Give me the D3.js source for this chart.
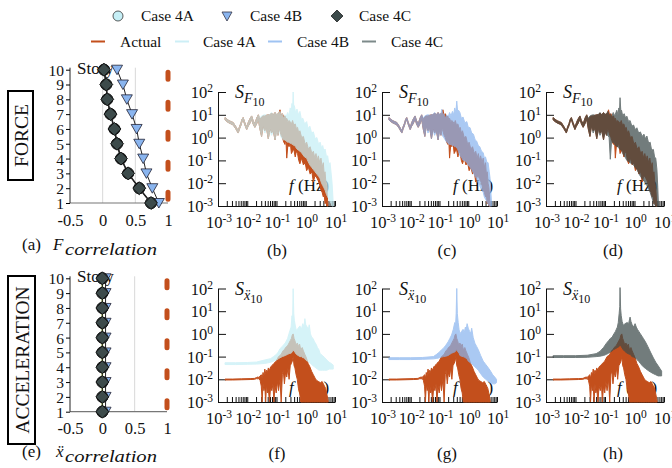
<!DOCTYPE html>
<html>
<head>
<meta charset="utf-8">
<script src="https://cdn.jsdelivr.net/npm/d3@7"></script>
<style>
  body { margin: 0; background: #fff; }
  text { font-family: 'Liberation Serif', 'Times New Roman', Times, serif; fill: #111; }
</style>
</head>
<body>
<div id="chart"></div>
<script>
// ---- data ----
var stories = [1, 2, 3, 4, 5, 6, 7, 8, 9, 10];
var corrTicks = [-0.5, 0, 0.5, 1];
var actualCorr = [1, 1, 1, 1, 1, 1, 1, 1, 1, 1];
// force correlation per story (1..10)
var forceCorr4A = [0.74, 0.56, 0.39, 0.28, 0.22, 0.18, 0.12, 0.07, 0.055, 0.02];
var forceCorr4B = [0.86, 0.76, 0.67, 0.62, 0.56, 0.52, 0.45, 0.37, 0.31, 0.22];
var forceCorr4C = [0.74, 0.56, 0.39, 0.28, 0.22, 0.18, 0.12, 0.07, 0.055, 0.02];
// acceleration correlation per story
var accCorr4A = [0, 0, 0, 0, 0, 0, 0, 0, 0, 0];
var accCorr4B = [0.05, 0.05, 0.05, 0.05, 0.05, 0.05, 0.05, 0.05, 0.05, 0.05];
var accCorr4C = [0, 0, 0, 0, 0, 0, 0, 0, 0, 0];

var freqDecades = [-3, -2, -1, 0, 1];       // exponents of 10 (Hz)
var ampDecades = [2, 1, 0, -1, -2, -3];     // exponents of 10

// spectra: [log10 f, log10 upper, log10 lower]
var forceActual = [
  [-2.76,0.88,0.78],[-2.69,0.80,0.70],[-2.62,0.74,0.64],[-2.55,0.70,0.60],[-2.48,0.66,0.55],
  [-2.40,0.50,0.40],[-2.31,0.30,0.20],[-2.26,0.50,0.40],[-2.22,0.62,0.52],[-2.18,0.80,0.70],
  [-2.14,0.88,0.78],[-2.08,0.65,0.55],[-2.02,0.45,0.35],[-1.97,0.65,0.50],[-1.92,0.80,0.60],
  [-1.85,0.95,0.80],[-1.80,0.75,0.60],[-1.74,0.60,0.45],[-1.68,0.85,0.60],[-1.62,1.00,0.80],
  [-1.57,0.80,0.40],[-1.51,0.90,0.05],[-1.46,0.95,0.50],[-1.40,0.95,0.30],[-1.34,0.98,0.40],
  [-1.28,1.00,-0.05],[-1.22,1.00,0.40],[-1.17,1.08,0.20],[-1.11,1.00,0.30],[-1.05,1.10,-0.10],
  [-1.00,1.00,0.30],[-0.95,1.05,0.10],[-0.91,1.10,0.35],[-0.88,1.22,0.30],[-0.84,0.95,0.10],
  [-0.80,1.05,0.00],[-0.75,0.90,-0.20],[-0.71,0.95,-0.30],[-0.68,0.80,0.00],[-0.65,0.85,-0.90],
  [-0.61,0.70,-0.30],[-0.57,0.75,-0.40],[-0.53,0.70,-0.20],[-0.49,0.60,-0.70],[-0.45,0.75,-0.60],
  [-0.41,0.55,-0.50],[-0.36,0.60,-0.85],[-0.32,0.40,-0.60],[-0.28,0.45,-0.70],[-0.24,0.20,-1.00],
  [-0.20,0.30,-1.15],[-0.14,0.00,-0.90],[-0.08,0.05,-1.20],[-0.02,-0.30,-1.10],[0.03,-0.20,-1.45],
  [0.09,-0.50,-1.30],[0.15,-0.40,-1.60],[0.21,-0.70,-1.50],[0.26,-0.60,-1.95],[0.31,-0.90,-1.70],
  [0.35,-0.70,-1.70],[0.39,-1.00,-1.80],[0.43,-0.80,-1.90],[0.48,-1.10,-2.10],[0.52,-0.90,-2.30],
  [0.56,-1.30,-2.40],[0.60,-1.10,-2.60],[0.63,-1.60,-2.50],[0.66,-1.50,-2.90],[0.69,-2.00,-2.80],
  [0.72,-2.20,-3.00],[0.76,-3.00,-3.00]
];
// low-frequency part, the same in all three force cases
var forceCaseLow = [
  [-2.76,0.88,0.78],[-2.69,0.80,0.70],[-2.62,0.74,0.64],[-2.55,0.70,0.60],[-2.48,0.66,0.55],
  [-2.40,0.50,0.40],[-2.31,0.30,0.20],[-2.26,0.50,0.40],[-2.22,0.62,0.52],[-2.18,0.80,0.70],
  [-2.14,0.88,0.78],[-2.08,0.65,0.55],[-2.02,0.45,0.35],[-1.97,0.65,0.50],[-1.92,0.80,0.60],
  [-1.85,0.95,0.80],[-1.80,0.75,0.60],[-1.74,0.60,0.45],[-1.68,0.85,0.60],[-1.62,1.00,0.80],
  [-1.57,0.85,0.40],[-1.51,0.95,0.05],[-1.46,0.98,0.50],[-1.40,1.00,0.20],[-1.34,0.98,0.40],
  [-1.28,1.00,-0.05],[-1.22,1.02,0.35],[-1.17,1.10,0.10],[-1.11,1.00,0.30],[-1.05,1.10,-0.10],
  [-1.00,1.02,0.25],[-0.95,1.05,0.10]
];
var force4AHigh = [
  [-0.91,1.10,0.35],[-0.88,1.15,0.20],[-0.84,0.95,0.00],[-0.80,1.05,-0.05],[-0.76,0.85,-0.10],
  [-0.71,1.00,-0.10],[-0.67,0.90,-0.15],[-0.62,1.10,-0.20],[-0.58,0.95,-0.20],[-0.53,1.30,-0.25],
  [-0.50,1.10,-0.25],[-0.47,1.50,-0.30],[-0.45,1.20,-0.30],[-0.43,2.00,-0.30],[-0.41,1.30,-0.35],
  [-0.39,1.40,-0.35],[-0.35,1.10,-0.40],[-0.30,1.25,-0.50],[-0.25,1.00,-0.55],[-0.20,1.15,-0.60],
  [-0.15,0.80,-0.65],[-0.10,0.85,-0.75],[-0.04,0.60,-0.85],[0.03,0.70,-0.90],[0.08,0.40,-1.05],
  [0.14,0.50,-1.20],[0.20,0.20,-1.30],[0.26,0.25,-1.40],[0.32,-0.05,-1.50],[0.38,0.00,-1.60],
  [0.44,-0.30,-1.70],[0.49,-0.20,-1.80],[0.54,-0.45,-2.00],[0.58,-0.35,-2.10],[0.62,-0.60,-2.20],
  [0.66,-0.50,-2.30],[0.71,-0.85,-2.50],[0.75,-0.80,-2.60],[0.79,-1.20,-2.70],[0.83,-1.10,-2.80],
  [0.87,-1.60,-2.90],[0.90,-2.00,-3.00],[0.94,-2.90,-3.00]
];
var force4BHigh = [
  [-0.92,1.24,0.20],[-0.88,1.00,0.05],[-0.85,1.05,0.00],[-0.80,0.85,-0.10],[-0.75,1.00,-0.20],
  [-0.70,0.90,-0.25],[-0.65,1.10,-0.30],[-0.60,0.95,-0.30],[-0.55,1.15,-0.35],[-0.51,1.00,-0.35],
  [-0.47,1.30,-0.40],[-0.43,1.10,-0.40],[-0.40,1.60,-0.45],[-0.37,1.15,-0.50],[-0.34,1.20,-0.60],
  [-0.29,1.10,-0.80],[-0.24,0.85,-0.85],[-0.18,0.90,-1.00],[-0.12,0.65,-1.00],[-0.05,0.70,-1.10],
  [0.00,0.45,-1.20],[0.06,0.44,-1.30],[0.12,0.20,-1.40],[0.18,0.15,-1.55],[0.24,-0.10,-1.70],
  [0.29,-0.15,-1.80],[0.35,-0.35,-2.00],[0.40,-0.40,-2.10],[0.46,-0.60,-2.30],[0.52,-0.66,-2.40],
  [0.56,-0.90,-2.60],[0.60,-0.85,-2.70],[0.65,-1.10,-2.80],[0.69,-1.10,-2.90],[0.73,-1.50,-3.00],
  [0.76,-1.80,-3.00],[0.81,-2.90,-3.00]
];
var force4CHigh = [
  [-0.90,1.15,0.10],[-0.86,0.95,0.00],[-0.82,1.05,-0.95],[-0.78,0.90,-0.20],[-0.72,1.10,-0.20],
  [-0.67,0.95,-0.30],[-0.60,1.20,-0.40],[-0.56,1.00,-0.40],[-0.53,1.30,-0.45],[-0.51,1.10,-0.50],
  [-0.49,1.75,-0.50],[-0.46,1.10,-0.55],[-0.44,1.20,-0.55],[-0.40,0.95,-0.70],[-0.35,1.05,-0.80],
  [-0.30,0.85,-0.90],[-0.26,0.94,-1.00],[-0.20,0.70,-1.05],[-0.15,0.75,-1.10],[-0.09,0.50,-1.15],
  [-0.03,0.55,-1.20],[0.02,0.35,-1.30],[0.08,0.43,-1.40],[0.14,0.20,-1.55],[0.20,0.25,-1.70],
  [0.26,0.05,-1.80],[0.32,0.15,-1.90],[0.37,-0.05,-2.00],[0.42,0.07,-2.10],[0.48,-0.25,-2.25],
  [0.53,-0.20,-2.40],[0.58,-0.55,-2.60],[0.64,-0.52,-2.85],[0.68,-0.85,-2.95],[0.72,-0.90,-3.00],
  [0.76,-1.40,-3.00],[0.79,-2.20,-3.00],[0.81,-2.90,-3.00]
];
var accActual = [
  [-2.76,-1.99,-2.03],[-2.50,-1.99,-2.03],[-2.20,-1.98,-2.02],[-1.90,-1.97,-2.01],[-1.75,-1.96,-2.00],
  [-1.68,-1.92,-1.97],[-1.64,-1.90,-1.98],[-1.60,-1.92,-1.97],[-1.56,-1.85,-2.05],[-1.52,-1.80,-2.30],
  [-1.49,-1.95,-3.00],[-1.46,-1.70,-2.20],[-1.43,-1.85,-2.50],[-1.40,-1.55,-2.30],[-1.37,-1.75,-3.00],
  [-1.34,-1.60,-2.20],[-1.31,-1.70,-2.60],[-1.28,-1.50,-2.40],[-1.24,-1.60,-3.00],[-1.20,-1.45,-2.30],
  [-1.16,-1.40,-2.50],[-1.12,-1.35,-2.20],[-1.09,-1.30,-3.00],[-1.05,-1.25,-2.30],[-1.01,-1.20,-2.60],
  [-0.97,-1.10,-2.10],[-0.93,-1.00,-2.50],[-0.88,-0.95,-2.00],[-0.84,-0.90,-3.00],[-0.80,-0.80,-1.80],
  [-0.77,-0.73,-1.60],[-0.73,-0.70,-2.20],[-0.69,-0.60,-1.70],[-0.65,-0.55,-1.90],[-0.61,-0.50,-1.50],
  [-0.57,-0.40,-2.00],[-0.53,-0.30,-1.40],[-0.49,-0.20,-1.30],[-0.46,-0.05,-1.20],[-0.43,0.00,-1.00],
  [-0.40,-0.20,-1.40],[-0.37,-0.30,-1.50],[-0.33,-0.50,-1.80],[-0.29,-0.40,-2.00],[-0.25,-0.55,-2.40],
  [-0.21,-0.45,-2.60],[-0.17,-0.70,-3.00],[-0.12,-0.60,-3.00],[-0.08,-0.75,-3.00],[-0.03,-0.90,-3.00],
  [0.02,-1.05,-3.00],[0.08,-1.30,-3.00],[0.14,-1.45,-3.00],[0.20,-1.65,-3.00],[0.26,-1.80,-3.00],
  [0.32,-1.95,-3.00],[0.37,-2.05,-3.00],[0.44,-2.10,-3.00],[0.50,-2.15,-3.00],[0.56,-2.10,-3.00],
  [0.62,-2.25,-3.00],[0.68,-2.40,-3.00],[0.73,-2.70,-3.00],[0.77,-3.00,-3.00]
];
var acc4A = [
  [-2.76,-1.27,-1.35],[-2.40,-1.27,-1.35],[-2.00,-1.26,-1.34],[-1.68,-1.24,-1.33],[-1.40,-1.15,-1.30],
  [-1.20,-1.09,-1.25],[-1.10,-1.00,-1.20],[-1.00,-0.90,-1.15],[-0.94,-0.80,-1.10],[-0.88,-0.65,-1.05],
  [-0.80,-0.55,-1.00],[-0.70,-0.40,-0.95],[-0.62,-0.20,-0.90],[-0.54,0.15,-0.85],[-0.50,0.30,-0.85],
  [-0.47,0.80,-0.80],[-0.45,0.60,-0.75],[-0.43,1.99,-0.70],[-0.41,0.90,-0.75],[-0.39,0.60,-0.75],
  [-0.35,0.30,-0.85],[-0.32,0.15,-0.90],[-0.26,0.25,-0.95],[-0.20,0.35,-1.00],[-0.15,0.20,-1.00],
  [-0.10,0.45,-1.05],[-0.06,0.30,-1.05],[-0.03,0.67,-1.10],[0.00,0.40,-1.15],[0.05,0.30,-1.20],
  [0.09,0.20,-1.20],[0.12,0.40,-1.25],[0.16,0.00,-1.30],[0.20,-0.14,-1.35],[0.25,-0.20,-1.40],
  [0.30,-0.35,-1.45],[0.35,-0.45,-1.50],[0.40,-0.60,-1.55],[0.45,-0.70,-1.60],[0.49,-0.87,-1.60],
  [0.57,-0.95,-1.60],[0.65,-1.05,-1.60],[0.72,-1.15,-1.60],[0.80,-1.25,-1.55],[0.87,-1.30,-1.55],
  [0.94,-1.38,-1.55]
];
var acc4B = [
  [-2.76,-1.05,-1.13],[-2.40,-1.05,-1.13],[-2.00,-1.05,-1.13],[-1.60,-1.04,-1.12],[-1.21,-1.00,-1.10],
  [-1.10,-0.90,-1.08],[-1.00,-0.80,-1.05],[-0.93,-0.70,-1.02],[-0.86,-0.63,-1.00],[-0.78,-0.50,-0.98],
  [-0.70,-0.35,-0.95],[-0.64,-0.20,-0.90],[-0.58,-0.05,-0.85],[-0.52,0.20,-0.82],[-0.47,0.50,-0.80],
  [-0.44,0.40,-0.75],[-0.42,0.90,-0.72],[-0.40,2.00,-0.70],[-0.38,0.90,-0.75],[-0.35,0.50,-0.80],
  [-0.32,0.20,-0.85],[-0.29,0.00,-0.95],[-0.24,0.10,-0.98],[-0.18,0.20,-1.00],[-0.14,0.05,-1.02],
  [-0.10,0.30,-1.05],[-0.07,0.20,-1.08],[-0.04,0.45,-1.10],[0.00,0.25,-1.20],[0.05,0.10,-1.25],
  [0.09,0.05,-1.28],[0.12,0.25,-1.30],[0.17,-0.15,-1.38],[0.23,-0.41,-1.45],[0.29,-0.55,-1.52],
  [0.35,-0.70,-1.60],[0.43,-0.95,-1.75],[0.52,-1.20,-1.90],[0.61,-1.35,-2.00],[0.70,-1.50,-2.10],
  [0.78,-1.65,-2.15],[0.85,-1.80,-2.20],[0.92,-1.90,-2.20],[0.98,-2.00,-2.15]
];
var acc4C = [
  [-2.76,-0.96,-1.04],[-2.40,-0.96,-1.04],[-2.00,-0.96,-1.04],[-1.60,-0.94,-1.03],[-1.30,-0.87,-1.00],
  [-1.17,-0.77,-0.98],[-1.05,-0.60,-0.95],[-0.95,-0.41,-0.90],[-0.88,-0.30,-0.85],[-0.82,-0.20,-0.80],
  [-0.76,-0.15,-0.75],[-0.72,-0.05,-0.70],[-0.65,0.10,-0.65],[-0.58,0.30,-0.60],[-0.55,0.50,-0.58],
  [-0.52,0.90,-0.55],[-0.50,1.20,-0.52],[-0.49,2.04,-0.50],[-0.47,1.10,-0.52],[-0.45,0.80,-0.55],
  [-0.42,0.55,-0.62],[-0.38,0.38,-0.70],[-0.32,0.45,-0.78],[-0.25,0.50,-0.85],[-0.20,0.45,-0.88],
  [-0.15,0.74,-0.90],[-0.12,0.55,-0.95],[-0.08,0.40,-1.00],[-0.03,0.30,-1.02],[0.02,0.45,-1.05],
  [0.06,0.30,-1.10],[0.10,0.20,-1.15],[0.15,0.10,-1.22],[0.20,0.00,-1.30],[0.25,-0.10,-1.38],
  [0.30,-0.20,-1.45],[0.37,-0.35,-1.52],[0.45,-0.55,-1.60],[0.54,-0.80,-1.68],[0.64,-1.06,-1.75],
  [0.72,-1.25,-1.80],[0.80,-1.40,-1.85],[0.86,-1.52,-1.85],[0.92,-1.64,-1.85]
];

var cActual = "#c34f1c", c4A = "#c6eff6", c4B = "#8ab5ef", c4C = "#3d4b4b";

var width = 672, height = 468;
var svg = d3.select("#chart").append("svg")
  .attr("width", width).attr("height", height)
  .style("background", "#fff");

// ---- legend ----
var leg = svg.append("g").style("font-size", "15.5px");
leg.append("circle").attr("cx", 118).attr("cy", 16).attr("r", 5)
  .attr("fill", c4A).attr("stroke", "#333").attr("stroke-width", 0.8);
leg.append("text").attr("x", 141).attr("y", 21).text("Case 4A");
leg.append("path").attr("transform", "translate(227,16)")
  .attr("d", "M-5,-4L5,-4L0,5Z").attr("fill", c4B).attr("stroke", "#334").attr("stroke-width", 0.8);
leg.append("text").attr("x", 250).attr("y", 21).text("Case 4B");
leg.append("path").attr("transform", "translate(337,16) rotate(45)")
  .attr("d", "M-4.2,-4.2H4.2V4.2H-4.2Z").attr("fill", c4C).attr("stroke", "#222").attr("stroke-width", 0.8);
leg.append("text").attr("x", 359).attr("y", 21).text("Case 4C");

var lineLeg = [
  {x: 91, tx: 120, col: cActual, label: "Actual"},
  {x: 175, tx: 203, col: "#cdeff6", label: "Case 4A"},
  {x: 268, tx: 297, col: "#9fc3f2", label: "Case 4B"},
  {x: 362, tx: 391, col: "#7d8a8a", label: "Case 4C"}
];
lineLeg.forEach(function(d) {
  leg.append("line").attr("x1", d.x).attr("x2", d.x + 14).attr("y1", 41.5).attr("y2", 41.5)
    .attr("stroke", d.col).attr("stroke-width", 2);
  leg.append("text").attr("x", d.tx).attr("y", 47).text(d.label);
});

// ---- side boxes ----
function sideBox(x, y, w, h, label) {
  svg.append("rect").attr("x", x).attr("y", y).attr("width", w).attr("height", h)
    .attr("fill", "none").attr("stroke", "#000").attr("stroke-width", 2);
  svg.append("text").attr("transform", "translate(" + (x + w / 2 + 7) + "," + (y + h / 2) + ") rotate(-90)")
    .attr("text-anchor", "middle").style("font-size", "19.5px").text(label);
}
sideBox(8, 91, 25, 89, "FORCE");
sideBox(8, 276, 27, 168, "ACCELERATION");

// ---- correlation panels ----
function corrPanel(cfg) {
  var x = d3.scaleLinear().domain([-0.5, 1]).range([70, cfg.xR]);
  var y = d3.scaleLinear().domain([1, 10]).range([cfg.yBot, cfg.yTop]);
  var g = svg.append("g");

  [0, 0.5].forEach(function(v) {
    g.append("line").attr("x1", x(v)).attr("x2", x(v)).attr("y1", y(10) - 2).attr("y2", y(1))
      .attr("stroke", "#d8d8d8").attr("stroke-width", 1);
  });
  g.append("line").attr("x1", x(-0.5)).attr("x2", x(1)).attr("y1", y(1)).attr("y2", y(1))
    .attr("stroke", "#777").attr("stroke-width", 1.2);

  var ax = g.append("g").attr("transform", "translate(" + x(-0.5) + ",0)")
    .call(d3.axisLeft(y).tickValues(stories).tickSize(4).tickSizeOuter(0).tickPadding(2)
      .tickFormat(function(d) { return String(d); }));
  ax.selectAll("text").style("font-size", "15.5px").attr("dy", "0.35em").style("fill", "#111");
  ax.select(".domain").attr("stroke", "#222").attr("d", "M0," + (y(10) - 2) + "V" + y(1));

  var bx = g.append("g").attr("transform", "translate(0," + y(1) + ")")
    .call(d3.axisBottom(x).tickValues(corrTicks).tickSize(0).tickPadding(11)
      .tickFormat(function(d) { return String(d); }));
  bx.select(".domain").remove();
  bx.selectAll("text").style("font-size", "16.5px").style("fill", "#111");

  g.append("text").attr("x", 77).attr("y", cfg.storyY).style("font-size", "17px").text("Story");

  // actual: dashed line at 1
  var actLine = d3.line().x(function(d) { return x(d); })
    .y(function(d, i) { return y(stories[9 - i]) + (i === 0 ? 2.5 : 0); });
  g.append("path").datum(actualCorr).attr("d", actLine)
    .attr("fill", "none").attr("stroke", cActual).attr("stroke-width", 5)
    .attr("stroke-linecap", "round").attr("stroke-dasharray", "7,23");

  var line = d3.line().x(function(d) { return x(d); }).y(function(d, i) { return y(stories[i]); });
  var series = [
    {v: cfg.s4A, col: cfg.line4A, w: 1.6, kind: "circle", fill: c4A},
    {v: cfg.s4B, col: "#222", w: 1, kind: "tri", fill: c4B},
    {v: cfg.s4C, col: "#222", w: 1, kind: "dia", fill: c4C}
  ];
  series.forEach(function(s) {
    g.append("path").datum(s.v).attr("d", line).attr("fill", "none")
      .attr("stroke", s.col).attr("stroke-width", s.w);
  });
  series.forEach(function(s) {
    var m = g.selectAll(null).data(s.v).enter().append("g")
      .attr("transform", function(d, i) { return "translate(" + x(d) + "," + y(stories[i]) + ")"; });
    if (s.kind === "circle") {
      m.append("circle").attr("r", 5.5).attr("fill", s.fill).attr("stroke", "#333").attr("stroke-width", 0.8);
    } else if (s.kind === "tri") {
      m.append("path").attr("d", "M-5.5,-4.5L5.5,-4.5L0,5Z").attr("fill", s.fill)
        .attr("stroke", "#223").attr("stroke-width", 0.8);
    } else {
      m.append("circle").attr("r", 5.6).attr("fill", s.fill).attr("stroke", "#111").attr("stroke-width", 0.9);
      m.append("path").attr("transform", "rotate(45)").attr("d", "M-4.6,-4.6H4.6V4.6H-4.6Z")
        .attr("fill", s.fill).attr("stroke", "#111").attr("stroke-width", 0.9);
    }
  });

  // caption: letter, symbol and italic subscript
  var cap = g.append("text").attr("y", cfg.capY).style("font-size", "17px");
  cap.append("tspan").attr("x", 22).text(cfg.capLetter);
  cap.append("tspan").attr("x", cfg.symX).style("font-style", "italic").text(cfg.capSym);
  cap.append("tspan").attr("x", 65).attr("dy", 5).style("font-style", "italic")
    .attr("textLength", 92).attr("lengthAdjust", "spacingAndGlyphs").text("correlation");
}

corrPanel({yTop: 69.7, yBot: 203, xR: 168, storyY: 74, capY: 250, capLetter: "(a)", capSym: "F", symX: 53,
  s4A: forceCorr4A, s4B: forceCorr4B, s4C: forceCorr4C, line4A: "#222"});
corrPanel({yTop: 278.3, yBot: 411.7, xR: 167, storyY: 282, capY: 457, capLetter: "(e)", capSym: "\u1E8D", symX: 56,
  s4A: accCorr4A, s4B: accCorr4B, s4C: accCorr4C, line4A: "#a9c93c"});

// ---- spectrum panels ----
var minorTicks = [];
freqDecades.forEach(function(e) {
  for (var k = 1; k <= 9; k++) {
    var v = k * Math.pow(10, e);
    if (v <= 10) minorTicks.push(v);
  }
});

function specPanel(cfg) {
  var x = d3.scaleLog().domain([1e-3, 1e1]).range([cfg.x0, cfg.x1]);
  var y = d3.scaleLog().domain([1e-3, 1e2]).range([cfg.yb, cfg.yt]);
  var g = svg.append("g");

  g.append("g").attr("transform", "translate(" + cfg.x0 + ",0)")
    .call(d3.axisRight(y).tickValues(ampDecades.map(function(e) { return Math.pow(10, e); }))
      .tickSize(8).tickSizeOuter(0).tickFormat(function() { return ""; }))
    .selectAll("path,line").attr("stroke", "#111");
  g.append("g").attr("transform", "translate(0," + cfg.yb + ")")
    .call(d3.axisTop(x).tickValues(minorTicks).tickSize(5).tickSizeOuter(0)
      .tickFormat(function() { return ""; }))
    .selectAll("path,line").attr("stroke", "#111");

  ampDecades.forEach(function(e) {
    var t = g.append("text").attr("x", cfg.x0 - 5).attr("y", y(Math.pow(10, e)) + 6)
      .attr("text-anchor", "end").style("font-size", "16.5px");
    t.append("tspan").text("10");
    t.append("tspan").attr("dy", -6).style("font-size", "11.5px").text(String(e));
  });
  freqDecades.forEach(function(e) {
    var t = g.append("text").attr("x", x(Math.pow(10, e)) + 1).attr("y", cfg.yb + 22)
      .attr("text-anchor", "middle").style("font-size", "16.5px");
    t.append("tspan").text("10");
    t.append("tspan").attr("dy", -6).style("font-size", "11.5px").text(String(e));
  });

  var fl = g.append("text").attr("x", cfg.x0 + 71).attr("y", cfg.fY).style("font-size", "17px");
  fl.append("tspan").style("font-style", "italic").text("f");
  fl.append("tspan").text(" (Hz)");

  var area = d3.area()
    .x(function(d) { return x(Math.pow(10, d[0])); })
    .y0(function(d) { return y(Math.pow(10, d[2])); })
    .y1(function(d) { return y(Math.pow(10, d[1])); });

  g.append("path").datum(cfg.actual).attr("d", area)
    .attr("fill", cActual).attr("stroke", cActual).attr("stroke-width", 1);
  g.append("g").attr("opacity", cfg.op).append("path").datum(cfg.sim).attr("d", area)
    .attr("fill", cfg.col).attr("stroke", cfg.col).attr("stroke-width", 1);

  var s = g.append("text").attr("x", cfg.x0 + 17).attr("y", cfg.yt + 6).style("font-size", "18px");
  s.append("tspan").style("font-style", "italic").text("S");
  s.append("tspan").style("font-style", "italic").style("font-size", "14px").attr("dy", 5).text(cfg.sub);
  s.append("tspan").style("font-size", "12px").attr("dy", 3).text("10");

  svg.append("text").attr("x", cfg.capX).attr("y", cfg.capY).attr("text-anchor", "middle")
    .style("font-size", "17px").text(cfg.cap);
}

var cols = [[218, 335, 277], [382, 497, 447], [546, 664, 613]];
var forceSims = [forceCaseLow.concat(force4AHigh), forceCaseLow.concat(force4BHigh), forceCaseLow.concat(force4CHigh)];
var accSims = [acc4A, acc4B, acc4C];
var simCols = [c4A, c4B, c4C];
var simOps = [0.72, 0.72, 0.72];
var topCaps = ["(b)", "(c)", "(d)"], botCaps = ["(f)", "(g)", "(h)"];

cols.forEach(function(c, i) {
  specPanel({x0: c[0], x1: c[1], yt: 92, yb: 206, fY: 191, capX: c[2], capY: 256, cap: topCaps[i],
    actual: forceActual, sim: forceSims[i], col: simCols[i], op: simOps[i], sub: "F"});
  specPanel({x0: c[0], x1: c[1], yt: 288.5, yb: 402, fY: 393, capX: c[2], capY: 459, cap: botCaps[i],
    actual: accActual, sim: accSims[i], col: simCols[i], op: simOps[i], sub: "\u1E8D"});
});
</script>
</body>
</html>
